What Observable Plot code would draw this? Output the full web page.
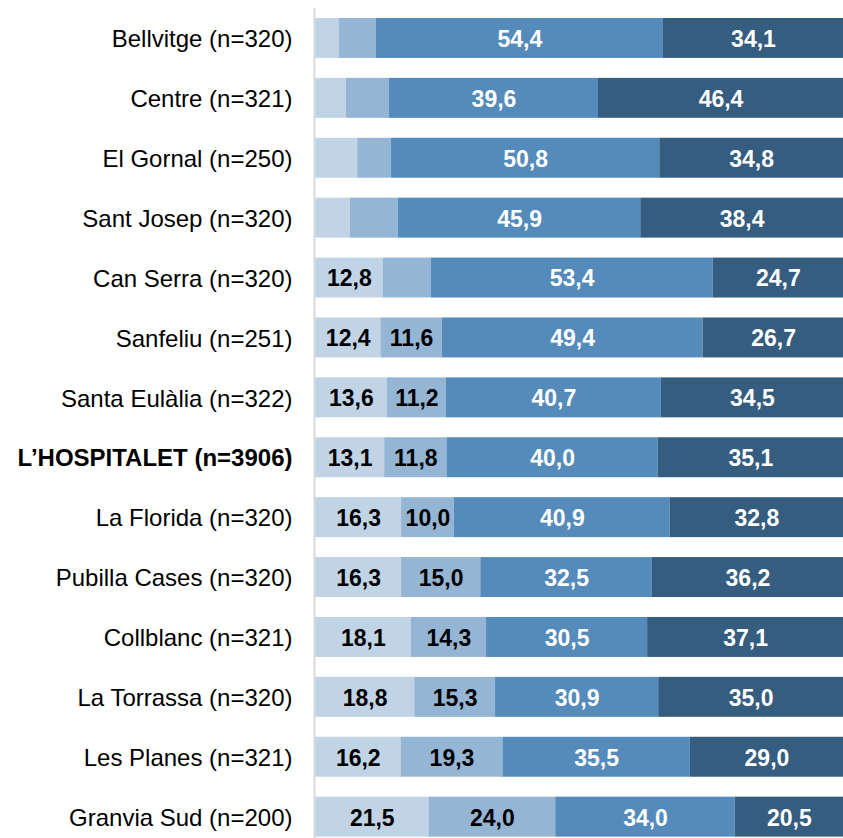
<!DOCTYPE html>
<html>
<head>
<meta charset="utf-8">
<script src="https://cdn.jsdelivr.net/npm/d3@7"></script>
<script src="https://cdn.jsdelivr.net/npm/@observablehq/plot@0.6"></script>
<style>
  html, body { margin: 0; padding: 0; background: #fff; }
  #chart svg { display: block; }
</style>
</head>
<body>
<div id="chart"></div>
<script>
const categories = [
  "Bellvitge (n=320)", "Centre (n=321)", "El Gornal (n=250)", "Sant Josep (n=320)",
  "Can Serra (n=320)", "Sanfeliu (n=251)", "Santa Eulàlia (n=322)", "L’HOSPITALET (n=3906)",
  "La Florida (n=320)", "Pubilla Cases (n=320)", "Collblanc (n=321)", "La Torrassa (n=320)",
  "Les Planes (n=321)", "Granvia Sud (n=200)"
];
const boldCategory = "L’HOSPITALET (n=3906)";
const seriesKeys = ["s1", "s2", "s3", "s4"];
const seriesColors = ["#c1d4e6", "#94b5d3", "#548bba", "#355d80"];
const s1 = [4.5, 5.8, 8.0, 6.6, 12.8, 12.4, 13.6, 13.1, 16.3, 16.3, 18.1, 18.8, 16.2, 21.5];
const s2 = [7.0, 8.2, 6.4, 9.1, 9.1, 11.6, 11.2, 11.8, 10.0, 15.0, 14.3, 15.3, 19.3, 24.0];
const s3 = [54.4, 39.6, 50.8, 45.9, 53.4, 49.4, 40.7, 40.0, 40.9, 32.5, 30.5, 30.9, 35.5, 34.0];
const s4 = [34.1, 46.4, 34.8, 38.4, 24.7, 26.7, 34.5, 35.1, 32.8, 36.2, 37.1, 35.0, 29.0, 20.5];
// which values carry a printed label (small ones in the first rows are unlabeled)
const s1Shown = [false, false, false, false, true, true, true, true, true, true, true, true, true, true];
const s2Shown = [false, false, false, false, false, true, true, true, true, true, true, true, true, true];

const series = [s1, s2, s3, s4];
const shown = [s1Shown, s2Shown, null, null];
const rows = [];
categories.forEach((c, i) => {
  series.forEach((arr, k) => {
    const show = shown[k] ? shown[k][i] : true;
    rows.push({cat: c, s: seriesKeys[k], v: arr[i], label: show ? arr[i].toFixed(1).replace(".", ",") : ""});
  });
});

const font = "'Liberation Sans', Arial, Helvetica, sans-serif";

const chart = Plot.plot({
  width: 843,
  height: 838,
  marginLeft: 315,
  marginRight: 0,
  marginTop: 8,
  marginBottom: 0,
  style: {fontFamily: font, fontSize: "23px", background: "#fff"},
  x: {domain: [0, 100], axis: null},
  y: {domain: categories, range: [8, 846.6], round: false, paddingInner: 0.333, paddingOuter: 0.1665, axis: null},
  color: {domain: seriesKeys, range: seriesColors},
  marks: [
    Plot.barX(rows, {x: "v", y: "cat", fill: "s", z: "s"}),
    Plot.ruleX([0], {stroke: "#d9d9d9", strokeWidth: 2, dx: -1}),
    Plot.text(rows, Plot.stackX({x: "v", y: "cat", z: "s",
      text: d => (d.s === "s1" || d.s === "s2") ? d.label : "",
      fill: "#000", fontWeight: "bold", fontSize: 23, dy: 1})),
    Plot.text(rows, Plot.stackX({x: "v", y: "cat", z: "s",
      text: d => (d.s === "s3" || d.s === "s4") ? d.label : "",
      fill: "#fff", fontWeight: "bold", fontSize: 23, dy: 1})),
    Plot.text(categories.filter(c => c !== boldCategory), {x: 0, y: d => d, text: d => d,
      textAnchor: "end", dx: -23, fill: "#000", fontSize: 24, dy: 1}),
    Plot.text([boldCategory], {x: 0, y: d => d, text: d => d,
      textAnchor: "end", dx: -23, fill: "#000", fontSize: 24, fontWeight: "bold", dy: 1})
  ]
});
document.getElementById("chart").appendChild(chart);
</script>
</body>
</html>
